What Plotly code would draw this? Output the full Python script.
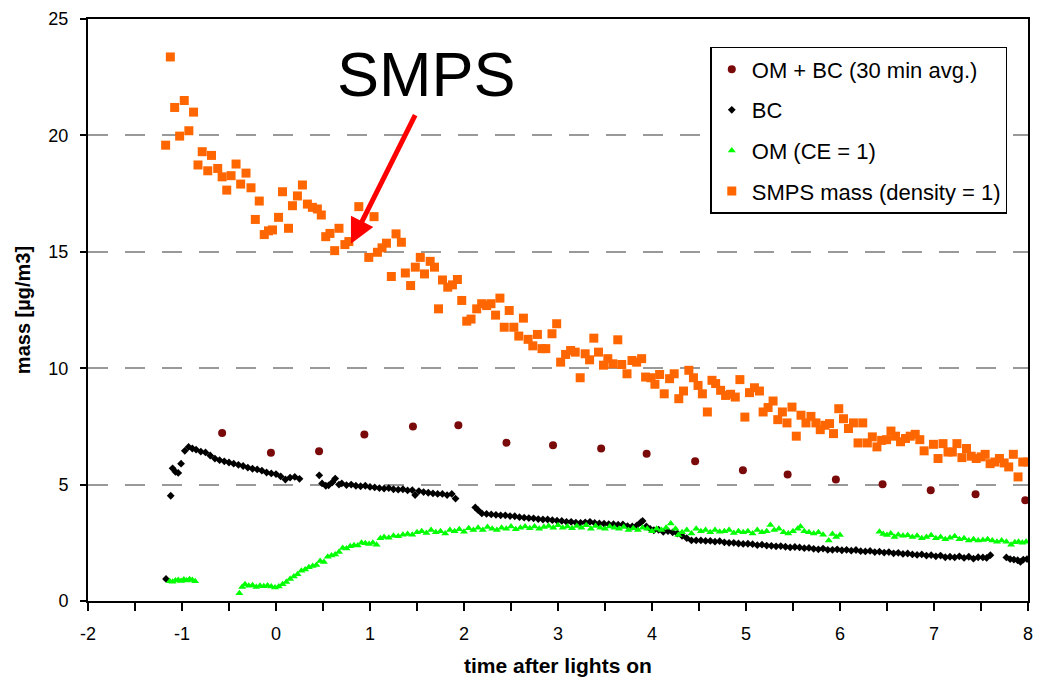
import plotly.graph_objects as go

# ---------------- data ----------------
smps_x = [-1.174, -1.124, -1.078, -1.025, -0.976, -0.927, -0.877, -0.83, -0.785, -0.726,
          -0.686, -0.62, -0.573, -0.524, -0.478, -0.425, -0.376, -0.319, -0.266, -0.22,
          -0.178, -0.125, -0.08, -0.037, 0.027, 0.069, 0.133, 0.175, 0.228, 0.281,
          0.334, 0.387, 0.44, 0.482, 0.529, 0.574, 0.624, 0.67, 0.733, 0.775,
          0.881, 0.987, 1.043, 1.079, 1.128, 1.175, 1.227, 1.277, 1.334, 1.376,
          1.432, 1.482, 1.535, 1.58, 1.64, 1.686, 1.729, 1.771, 1.827, 1.877,
          1.93, 1.976, 2.029, 2.075, 2.135, 2.188, 2.241, 2.287, 2.336, 2.382,
          2.428, 2.481, 2.53, 2.583, 2.632, 2.682, 2.732, 2.781, 2.83, 2.87,
          2.936, 2.986, 3.028, 3.081, 3.134, 3.183, 3.236, 3.289, 3.336, 3.381,
          3.431, 3.484, 3.53, 3.583, 3.636, 3.678, 3.734, 3.787, 3.837, 3.89,
          3.932, 3.989, 4.031, 4.081, 4.13, 4.187, 4.236, 4.285, 4.335, 4.392,
          4.441, 4.49, 4.536, 4.589, 4.638, 4.677, 4.73, 4.783, 4.836, 4.886,
          4.935, 4.988, 5.037, 5.09, 5.143, 5.182, 5.235, 5.288, 5.338, 5.387,
          5.436, 5.489, 5.535, 5.585, 5.638, 5.691, 5.744, 5.79, 5.839, 5.889,
          5.931, 5.987, 6.037, 6.09, 6.143, 6.192, 6.242, 6.291, 6.344, 6.393,
          6.443, 6.496, 6.542, 6.591, 6.644, 6.697, 6.747, 6.8, 6.849, 6.895,
          6.994, 7.043, 7.096, 7.149, 7.195, 7.244, 7.297, 7.346, 7.396, 7.449,
          7.502, 7.544, 7.597, 7.647, 7.696, 7.746, 7.795, 7.844, 7.894, 7.944,
          7.997]
smps_y = [19.58, 23.37, 21.2, 19.97, 21.5, 20.2, 21.0, 18.73, 19.3, 18.48,
          19.14, 18.58, 18.22, 17.65, 18.27, 18.77, 17.91, 18.38, 17.75, 16.39,
          17.18, 15.74, 15.9, 15.94, 16.48, 17.58, 16.01, 16.98, 17.4, 17.87,
          17.05, 16.91, 16.84, 16.58, 15.65, 15.79, 15.05, 16.01, 15.31, 15.44,
          16.94, 14.76, 16.51, 14.98, 15.17, 15.37, 13.94, 15.77, 15.41, 14.09,
          13.55, 14.34, 14.76, 14.05, 14.59, 14.34, 12.55, 13.79, 13.48, 13.58,
          13.81, 12.91, 12.02, 12.11, 12.55, 12.77, 12.69, 12.77, 12.28, 13.01,
          11.76, 12.48, 11.76, 11.38, 12.15, 11.24, 10.96, 11.45, 10.84, 10.84,
          11.48, 11.91, 10.26, 10.59, 10.76, 10.69, 9.59, 10.62, 10.36, 11.29,
          10.69, 10.13, 10.41, 10.19, 11.22, 10.16, 9.76, 10.33, 10.26, 10.41,
          9.62, 9.59, 9.31, 9.73, 8.9, 9.55, 9.76, 8.69, 9.02, 9.91,
          9.59, 9.26, 8.9, 8.12, 9.48, 9.34, 9.05, 8.83, 8.88, 8.76,
          9.51, 7.9, 8.95, 9.16, 9.02, 8.12, 8.31, 8.59, 7.79, 8.12,
          7.65, 8.33, 7.08, 7.98, 7.65, 7.93, 7.65, 7.36, 7.55, 7.62,
          7.19, 8.26, 7.83, 7.41, 7.65, 6.79, 7.65, 6.79, 7.05, 6.62,
          6.9, 6.93, 7.3, 7.08, 6.84, 6.98, 7.08, 7.16, 6.93, 6.45,
          6.73, 6.12, 6.76, 6.4, 6.4, 6.76, 6.16, 6.55, 6.22, 6.12,
          6.19, 6.3, 5.9, 5.97, 6.12, 5.93, 5.76, 6.3, 5.33, 5.97,
          5.97]

ombc_x = [-0.573, -0.054, 0.458, 0.94, 1.457, 1.94, 2.452, 2.947, 3.459,
          3.943, 4.459, 4.967, 5.443, 5.956, 6.453, 6.965, 7.442, 7.971]
ombc_y = [7.22, 6.37, 6.43, 7.15, 7.5, 7.55, 6.8, 6.69, 6.55,
          6.33, 6.0, 5.62, 5.43, 5.22, 5.02, 4.76, 4.59, 4.33]

bc_x = [-1.17,
        -1.12, -1.10, -1.07, -1.04, -1.01, -0.97, -0.93, -0.89, -0.85, -0.80,
        -0.75, -0.70, -0.65, -0.60, -0.55, -0.50, -0.45, -0.40, -0.35, -0.30,
        -0.25, -0.20, -0.15, -0.10, -0.05, 0.00, 0.05, 0.10, 0.15, 0.20, 0.25,
        0.46, 0.49, 0.53, 0.56, 0.60, 0.63, 0.67, 0.70, 0.75, 0.80,
        0.85, 0.90, 0.95, 1.00, 1.05, 1.10, 1.15, 1.20, 1.25, 1.30,
        1.35, 1.40, 1.45, 1.48, 1.52, 1.57, 1.62, 1.67, 1.72, 1.77,
        1.82, 1.87, 1.91,
        2.12, 2.15, 2.19, 2.24, 2.29, 2.34, 2.39, 2.44, 2.49, 2.54,
        2.59, 2.64, 2.69, 2.74, 2.79, 2.84, 2.89, 2.94, 2.99, 3.04,
        3.09, 3.14, 3.19, 3.24, 3.29, 3.34, 3.39, 3.44, 3.49, 3.54,
        3.59, 3.64, 3.69, 3.74, 3.79, 3.84, 3.88, 3.90, 3.94, 3.98,
        4.02, 4.07, 4.12, 4.17, 4.22, 4.27, 4.32, 4.37, 4.42, 4.47,
        4.52, 4.57, 4.62, 4.67, 4.72, 4.77, 4.82, 4.87, 4.92, 4.97,
        5.02, 5.07, 5.12, 5.17, 5.22, 5.27, 5.32, 5.37, 5.42, 5.47,
        5.52, 5.57, 5.62, 5.67, 5.72, 5.77, 5.82, 5.87, 5.92, 5.97,
        6.02, 6.07, 6.12, 6.17, 6.22, 6.27, 6.32, 6.37, 6.42, 6.47,
        6.52, 6.57, 6.62, 6.67, 6.72, 6.77, 6.82, 6.87, 6.92, 6.97,
        7.02, 7.07, 7.12, 7.17, 7.22, 7.27, 7.32, 7.37, 7.42, 7.47,
        7.52, 7.56, 7.60,
        7.77, 7.81, 7.85, 7.89, 7.92, 7.95, 7.99]
bc_y = [0.95,
        4.52, 5.7, 5.55, 5.5, 5.9, 6.45, 6.62, 6.55, 6.5, 6.42,
        6.38, 6.25, 6.12, 6.05, 6.0, 5.95, 5.9, 5.85, 5.8, 5.73,
        5.68, 5.65, 5.6, 5.52, 5.48, 5.45, 5.35, 5.22, 5.3, 5.33, 5.25,
        5.4, 5.05, 4.95, 4.97, 5.1, 5.26, 5.0, 5.05, 4.98, 5.0,
        4.95, 4.93, 4.95, 4.9, 4.88, 4.85, 4.83, 4.85, 4.8, 4.78,
        4.8, 4.75, 4.76, 4.55, 4.72, 4.68, 4.65, 4.62, 4.6, 4.6,
        4.55, 4.6, 4.4,
        4.02, 3.9, 3.76, 3.74, 3.72, 3.7, 3.68, 3.68, 3.65, 3.64,
        3.6, 3.58, 3.56, 3.55, 3.52, 3.5, 3.5, 3.47, 3.45, 3.44,
        3.4, 3.4, 3.37, 3.36, 3.38, 3.4, 3.35, 3.33, 3.32, 3.3,
        3.3, 3.28, 3.29, 3.22, 3.2, 3.25, 3.38, 3.44, 3.2, 3.1,
        3.04, 3.06, 2.97, 3.0, 2.95, 2.9, 2.8, 2.7, 2.6, 2.6,
        2.6, 2.58, 2.58, 2.55, 2.57, 2.52, 2.5, 2.5, 2.47, 2.45,
        2.46, 2.44, 2.4, 2.42, 2.38, 2.37, 2.35, 2.36, 2.33, 2.3,
        2.32, 2.3, 2.27, 2.28, 2.24, 2.22, 2.25, 2.2, 2.2, 2.22,
        2.18, 2.2, 2.16, 2.19, 2.14, 2.13, 2.15, 2.1, 2.12, 2.08,
        2.1, 2.05, 2.07, 2.02, 2.04, 2.0, 1.98, 2.0, 1.95, 1.97,
        1.92, 1.95, 1.88, 1.9, 1.87, 1.92, 1.85, 1.9, 1.82, 1.88,
        1.87, 1.85, 1.97,
        1.87, 1.8, 1.78, 1.75, 1.68, 1.78, 1.8]

om_x = [-1.13, -1.10, -1.07, -1.04, -1.01, -0.98, -0.95, -0.92, -0.89, -0.86,
        -0.39, -0.36, -0.33, -0.29, -0.25, -0.21, -0.17, -0.13, -0.09, -0.05,
        -0.01, 0.03, 0.07, 0.11, 0.15, 0.19, 0.23, 0.27, 0.31, 0.35,
        0.39, 0.43, 0.47, 0.51, 0.55, 0.59, 0.63, 0.67, 0.71, 0.75,
        0.79, 0.83, 0.87, 0.91, 0.95, 0.99, 1.03, 1.07, 1.11, 1.15,
        1.20, 1.25, 1.30, 1.35, 1.40, 1.45, 1.50, 1.55, 1.60, 1.65,
        1.70, 1.75, 1.80, 1.85, 1.90, 1.95, 2.00, 2.05, 2.10, 2.15,
        2.20, 2.25, 2.30, 2.35, 2.40, 2.45, 2.50, 2.55, 2.60, 2.65,
        2.70, 2.75, 2.80, 2.85, 2.90, 2.95, 3.00, 3.05, 3.10, 3.15,
        3.20, 3.25, 3.30, 3.35, 3.40, 3.45, 3.50, 3.55, 3.60, 3.65,
        3.70, 3.75, 3.80, 3.85, 3.90, 3.95, 4.00, 4.05, 4.10, 4.15,
        4.20, 4.25, 4.28, 4.32, 4.37, 4.42, 4.47, 4.52, 4.57, 4.62,
        4.67, 4.72, 4.77, 4.82, 4.87, 4.92, 4.97, 5.02, 5.07, 5.12,
        5.17, 5.22, 5.26, 5.30, 5.35, 5.40, 5.45, 5.50, 5.55, 5.58,
        5.62, 5.67, 5.72, 5.77, 5.82, 5.88, 5.92, 5.96, 6.00,
        6.42, 6.46, 6.50, 6.54, 6.58, 6.62, 6.67, 6.72, 6.77, 6.82,
        6.87, 6.92, 6.97, 7.02, 7.07, 7.12, 7.17, 7.22, 7.27, 7.32,
        7.37, 7.42, 7.47, 7.52, 7.57, 7.62, 7.67, 7.72, 7.77, 7.82,
        7.86, 7.90, 7.94, 7.98]
om_y = [0.85, 0.83, 0.88, 0.9, 0.86, 0.92, 0.88, 0.93, 0.9, 0.85,
        0.33, 0.6, 0.72, 0.65, 0.68, 0.6, 0.66, 0.63, 0.67, 0.62,
        0.58, 0.62, 0.72, 0.82, 0.95, 1.05, 1.15, 1.3, 1.35, 1.45,
        1.5, 1.55, 1.72, 1.68, 1.9, 1.95, 2.0, 2.1, 2.28, 2.25,
        2.35, 2.4, 2.38, 2.5, 2.48, 2.45, 2.5, 2.42, 2.7, 2.75,
        2.72, 2.8, 2.78, 2.85, 2.88, 2.85, 2.95, 3.0, 2.92, 3.05,
        2.95, 3.0, 2.9, 3.05, 3.0, 3.08, 2.98, 3.12, 3.05, 3.15,
        3.05, 3.18, 3.1, 3.05, 3.15, 3.1, 3.2, 3.08, 3.15, 3.2,
        3.12, 3.2, 3.1, 3.18, 3.22, 3.15, 3.25, 3.15, 3.2, 3.12,
        3.22, 3.15, 3.25, 3.1, 3.22, 3.15, 3.1, 3.2, 3.15, 3.1,
        3.18, 3.05, 3.12, 3.05, 3.15, 3.1, 3.0, 3.1, 3.05, 3.15,
        3.33, 3.1, 2.83, 2.95, 3.05, 2.9, 3.1, 3.0, 3.05, 2.95,
        3.05, 2.98, 3.0, 3.05, 2.92, 3.0, 2.95, 3.0, 2.9, 3.05,
        2.95, 3.0, 3.26, 3.05, 3.1, 2.95, 2.9, 3.0, 3.1, 3.2,
        3.0, 2.95, 2.9, 2.95, 2.85, 2.6, 2.88, 2.75, 2.83,
        2.97, 2.88, 2.83, 2.9, 2.75, 2.85, 2.8, 2.82, 2.75, 2.8,
        2.7, 2.75, 2.82, 2.7, 2.75, 2.65, 2.72, 2.78, 2.65, 2.7,
        2.6, 2.65, 2.6, 2.62, 2.65, 2.6, 2.55, 2.6, 2.55, 2.42,
        2.52, 2.55, 2.5, 2.55]

series_names = ["OM + BC (30 min avg.)", "BC", "OM (CE = 1)", "SMPS mass (density = 1)"]
x_ticks = [-2, -1, 0, 1, 2, 3, 4, 5, 6, 7, 8]
y_ticks = [0, 5, 10, 15, 20, 25]

FONT = "Liberation Sans, Arial, Helvetica, sans-serif"

fig = go.Figure()
fig.add_trace(go.Scatter(x=ombc_x, y=ombc_y, mode="markers", name=series_names[0],
                         legendgroup="g1",
                         marker=dict(symbol="circle", size=8, color="#7a0a0a")))
fig.add_trace(go.Scatter(x=bc_x, y=bc_y, mode="markers", name=series_names[1],
                         legendgroup="g2",
                         marker=dict(symbol="diamond", size=6, color="#000000")))
fig.add_trace(go.Scatter(x=om_x, y=om_y, mode="markers", name=series_names[2],
                         legendgroup="g3",
                         marker=dict(symbol="triangle-up", size=7, color="#00ff00")))
fig.add_trace(go.Scatter(x=smps_x, y=smps_y, mode="markers", name=series_names[3],
                         legendgroup="g4",
                         marker=dict(symbol="square", size=9, color="#ff6600")))

fig.update_layout(
    width=1042, height=681,
    margin=dict(l=88, r=9, t=18, b=80),
    paper_bgcolor="white", plot_bgcolor="white",
    font=dict(family=FONT, size=18, color="black"),
    showlegend=True,
    legend=dict(x=0.662, y=0.952, xanchor="left", yanchor="top",
                bgcolor="white", bordercolor="black", borderwidth=1.5,
                font=dict(family=FONT, size=22, color="black"),
                tracegroupgap=9, itemsizing="trace"),
    xaxis=dict(range=[-2, 8], tickvals=x_ticks, ticktext=[str(v) for v in x_ticks],
               showgrid=False, zeroline=False,
               showline=True, linecolor="black", linewidth=2, mirror=True,
               ticks="outside", ticklen=8, tickwidth=1.5, tickcolor="black",
               minor=dict(dtick=0.5, ticks="outside", ticklen=8, tickwidth=1.5,
                          tickcolor="black", showgrid=False),
               tickfont=dict(family=FONT, size=18), ticklabelstandoff=7),
    yaxis=dict(range=[0, 25], tickvals=y_ticks, ticktext=[str(v) for v in y_ticks],
               showgrid=True, gridcolor="#999999", gridwidth=1.5, griddash="20px,17px",
               zeroline=False,
               showline=True, linecolor="black", linewidth=2, mirror=True,
               ticks="outside", ticklen=6, tickwidth=1.5, tickcolor="black",
               tickfont=dict(family=FONT, size=18), ticklabelstandoff=8),
    annotations=[
        dict(text="<b>mass [µg/m3]</b>", xref="paper", yref="paper",
             x=-0.069, y=0.5, textangle=-90, showarrow=False,
             xanchor="center", yanchor="middle", font=dict(family=FONT, size=20)),
        dict(text="<b>time after lights on</b>", xref="paper", yref="paper",
             x=0.5, y=-0.11, showarrow=False, xanchor="center", yanchor="middle",
             font=dict(family=FONT, size=21)),
        dict(text="SMPS", xref="paper", yref="paper", x=0.36, y=0.905,
             showarrow=False, xanchor="center", yanchor="middle",
             font=dict(family=FONT, size=63, color="black")),
        dict(text="", x=0.797, y=15.35, xref="x", yref="y",
             showarrow=True, ax=65, ay=-130, arrowcolor="#ff0000",
             arrowwidth=5, arrowhead=2, arrowsize=1.0, standoff=0),
    ],
)

fig.write_html("out.html")
